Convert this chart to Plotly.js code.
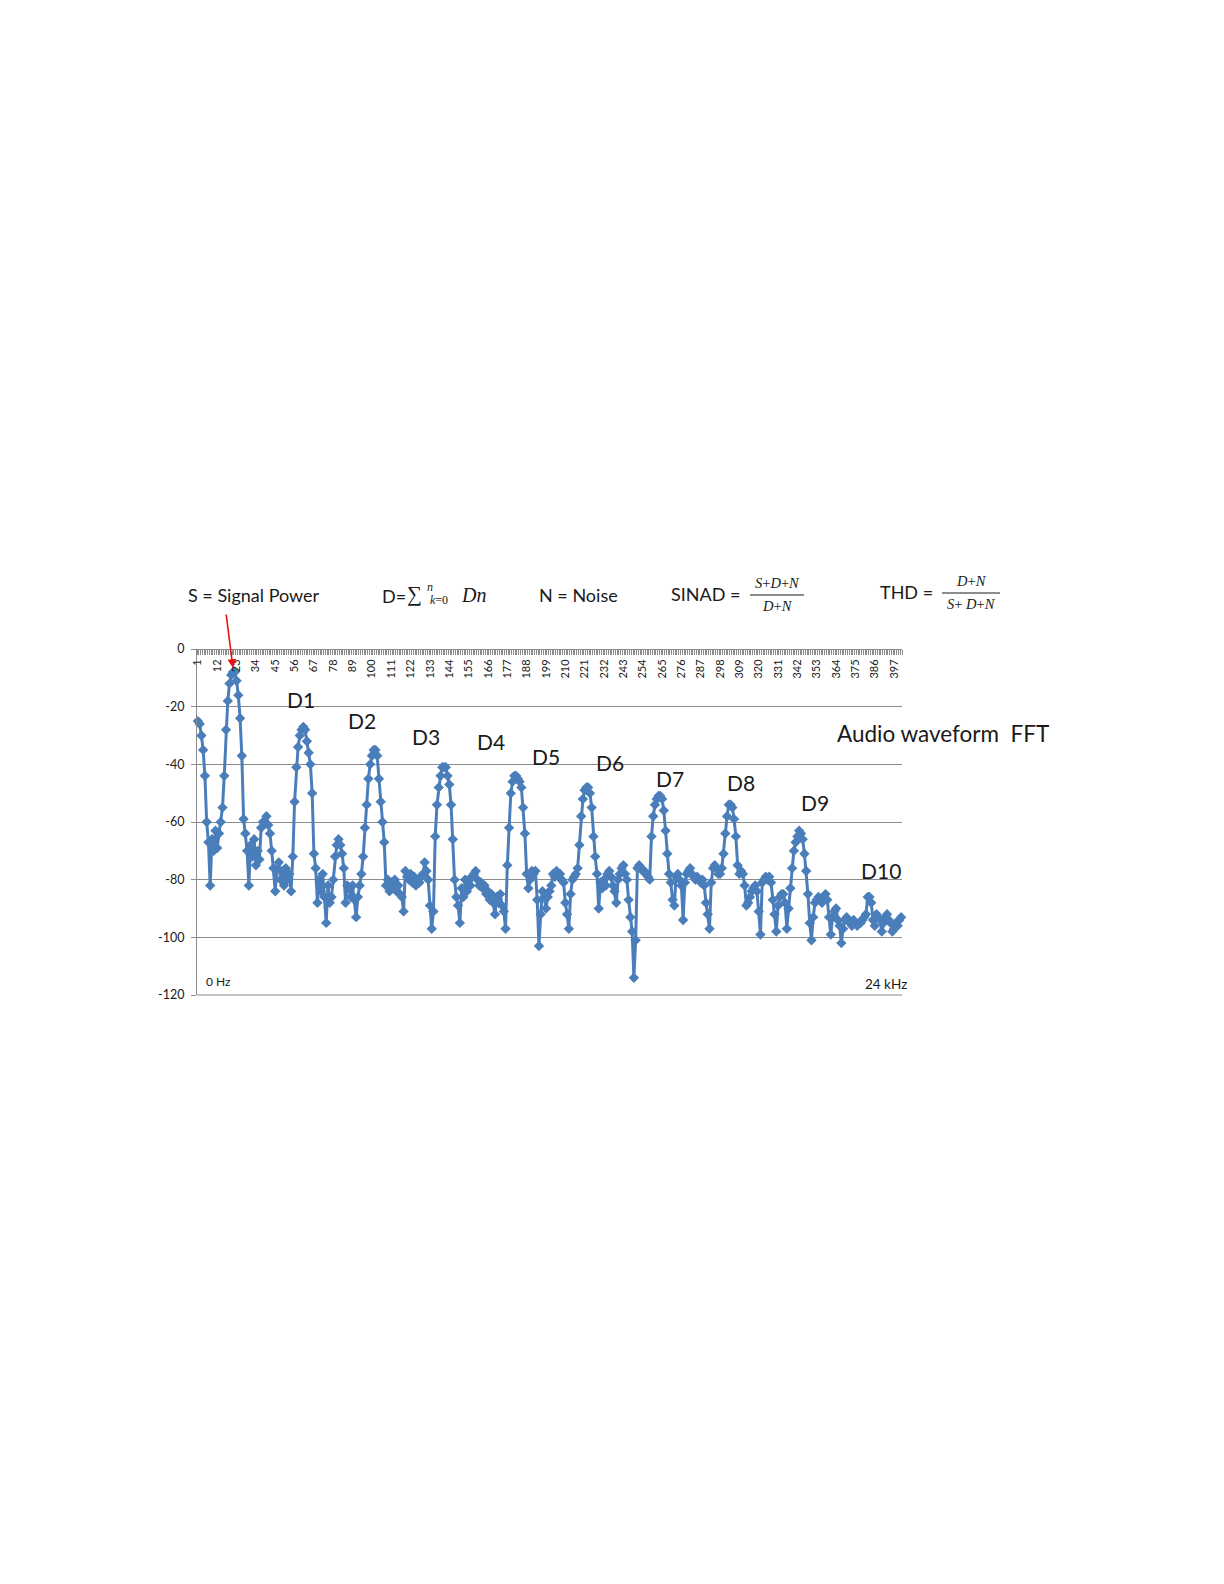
<!DOCTYPE html>
<html><head><meta charset="utf-8">
<script src="https://cdn.plot.ly/plotly-3.0.1.min.js"></script>
<style>html,body{margin:0;padding:0;background:#fff}#chart{width:1224px;height:1584px}</style>
</head><body><div id="chart"></div>
<script>
// FFT magnitude (dB) per bin
const dB = [
-25,-26,-30,-35,-44,-60,-67,-82,-66,-70,
-63,-69,-64,-60,-55,-44,-28,-18,-12,-9,
-8,-8,-11,-16,-24,-37,-59,-64,-70,-82,
-68,-72,-66,-75,-70,-73,-62,-60,-60,-58,
-61,-64,-70,-76,-84,-76,-74,-80,-77,-82,
-76,-80,-78,-84,-72,-53,-41,-34,-30,-28,
-27,-28,-32,-36,-40,-50,-71,-76,-88,-80,
-84,-78,-86,-95,-82,-88,-86,-80,-72,-68,
-66,-68,-71,-76,-88,-82,-83,-86,-82,-87,
-93,-86,-82,-78,-72,-62,-54,-45,-40,-37,
-35,-35,-37,-45,-53,-60,-67,-82,-80,-84,
-81,-83,-80,-84,-82,-85,-86,-91,-77,-79,
-80,-78,-81,-79,-82,-80,-81,-79,-78,-74,
-77,-80,-89,-97,-91,-65,-54,-48,-44,-41,
-41,-41,-44,-47,-54,-66,-80,-86,-89,-95,
-83,-86,-80,-84,-80,-82,-79,-78,-77,-80,
-82,-81,-83,-82,-85,-84,-87,-85,-88,-92,
-86,-88,-85,-89,-91,-97,-75,-62,-50,-46,
-44,-44,-45,-46,-48,-55,-64,-78,-83,-80,
-77,-78,-77,-87,-103,-92,-84,-86,-90,-86,
-84,-82,-78,-79,-77,-79,-78,-80,-81,-88,
-92,-97,-85,-80,-79,-78,-76,-68,-58,-52,
-49,-48,-48,-50,-55,-65,-72,-78,-90,-81,
-83,-80,-82,-78,-77,-79,-82,-84,-88,-80,
-78,-76,-75,-78,-80,-87,-93,-98,-114,-101,
-76,-75,-76,-77,-77,-78,-79,-80,-65,-58,
-54,-52,-51,-51,-52,-56,-63,-71,-78,-81,
-87,-89,-79,-78,-80,-82,-94,-81,-78,-77,
-76,-78,-79,-80,-79,-80,-81,-80,-82,-88,
-92,-97,-81,-76,-75,-76,-78,-78,-76,-71,
-64,-58,-54,-54,-55,-59,-65,-75,-78,-77,
-78,-82,-89,-88,-86,-84,-83,-82,-84,-91,
-99,-81,-80,-79,-80,-79,-81,-87,-92,-98,
-89,-86,-85,-85,-88,-97,-90,-83,-76,-70,
-67,-65,-63,-64,-66,-71,-77,-85,-95,-101,
-93,-88,-87,-86,-87,-88,-86,-85,-87,-93,
-99,-93,-91,-90,-94,-96,-102,-97,-94,-93,
-94,-95,-96,-94,-95,-96,-95,-95,-94,-93,
-92,-86,-86,-88,-94,-96,-92,-93,-94,-98,
-95,-93,-92,-94,-95,-98,-97,-95,-96,-94,
-93
];
const bins = dB.map((v, i) => i + 1);
const xTickVals = [1,12,23,34,45,56,67,78,89,100,111,122,133,144,155,166,177,188,199,210,221,232,243,254,265,276,287,298,309,320,331,342,353,364,375,386,397];
const xTickText = xTickVals.map(String);
const yTickVals = [0,-20,-40,-60,-80,-100,-120];
const yTickText = ['0','-20','-40','-60','-80','-100','-120'];
const harmonicLabels = ['D1','D2','D3','D4','D5','D6','D7','D8','D9','D10'];

// layout geometry (pixels)
const W = 1224, H = 1584, L = 197, R = 902, T = 649, B = 995;
const px = x => (x - L) / (R - L);
const py = y => (B - y) / (B - T);

const sans = 'Lato, "Open Sans", sans-serif';
const serif = '"Liberation Serif", "DejaVu Serif", serif';
const ink = '#1a1a1a';
const gridC = '#8c8c8c';

const harmonicPos = [[301,699],[362,720],[426,736],[491,741],[546,756],[610,762],[670,778],[741,782],[815,802],[881,870]];

const annotations = [];
harmonicLabels.forEach((t, i) => {
  annotations.push({text: t, xref:'paper', yref:'paper', x: px(harmonicPos[i][0]), y: py(harmonicPos[i][1]),
    showarrow:false, xanchor:'center', yanchor:'middle', font:{family:sans, size:21, color:ink}});
});
function txt(text, x, y, size, family, anchor) {
  annotations.push({text, xref:'paper', yref:'paper', x: px(x), y: py(y), showarrow:false,
    xanchor: anchor || 'center', yanchor:'middle', font:{family: family || sans, size, color: ink}});
}
txt('Audio waveform\u00a0\u00a0FFT', 943, 733, 22.5);
txt('0 Hz', 218, 981, 12);
txt('24 kHz', 886, 984, 13.5);
txt('S = Signal Power', 254, 595, 18);
txt('D=', 380, 596, 18, sans, 'left');
txt('\u2211', 414, 594, 21, serif);
txt('<i>n</i>', 430, 587, 12, serif);
txt('<i>k</i>=0', 439, 600, 12, serif);
txt('<i>Dn</i>', 473, 595, 20, serif);
txt('N = Noise', 578, 595, 18);
txt('SINAD =', 705, 594, 18);
txt('<i>S</i>+<i>D</i>+<i>N</i>', 777, 583, 14.5, serif);
txt('<i>D</i>+<i>N</i>', 777, 606, 14.5, serif);
txt('THD =', 907, 592, 18);
txt('<i>D</i>+<i>N</i>', 971, 581, 14.5, serif);
txt('<i>S</i>+ <i>D</i>+<i>N</i>', 971, 604, 14.5, serif);

// red arrow pointing at the signal peak
annotations.push({text:'', xref:'paper', yref:'paper', x: px(233), y: py(668), ax: -7, ay: -55,
  showarrow:true, arrowcolor:'#e8110f', arrowwidth:1.6, arrowhead:2, arrowsize:1.1, standoff:0});

const shapes = [
  // fraction bars
  {type:'line', xref:'paper', yref:'paper', x0:px(750), x1:px(804), y0:py(595), y1:py(595), line:{color:ink, width:1}},
  {type:'line', xref:'paper', yref:'paper', x0:px(942), x1:px(1000), y0:py(593), y1:py(593), line:{color:ink, width:1}},
  // bottom gridline of the plot area
  {type:'line', xref:'paper', yref:'paper', x0:0, x1:1, y0:0, y1:0, line:{color:gridC, width:1}, layer:'below'}
];

const trace = {
  x: bins, y: dB, type:'scatter', mode:'lines+markers', cliponaxis:false,
  line:{color:'#4a7ebb', width:3},
  marker:{symbol:'diamond', size:8, color:'#4a7ebb'},
  hoverinfo:'x+y'
};

const layout = {
  width: W, height: H,
  margin:{l:L, r:W-R, t:T, b:H-B, pad:0},
  paper_bgcolor:'#fff', plot_bgcolor:'#fff',
  showlegend:false,
  font:{family:sans, color:ink},
  xaxis:{
    range:[0.5, dB.length + 0.5], anchor:'free', position:1, side:'bottom',
    tickmode:'array', tickvals:xTickVals, ticktext:xTickText, tickangle:-90,
    ticks:'outside', ticklen:5, tickcolor:'rgba(0,0,0,0)',
    minor:{tickmode:'linear', tick0:0.5, dtick:1, ticks:'outside', ticklen:5, tickcolor:gridC, tickwidth:1, showgrid:false},
    showline:true, linecolor:gridC, linewidth:1,
    showgrid:false, zeroline:false, automargin:false,
    tickfont:{family:sans, size:11, color:ink}
  },
  yaxis:{
    range:[-120, 0], tickmode:'array', tickvals:yTickVals, ticktext:yTickText,
    ticks:'outside', ticklen:5, tickcolor:gridC, ticklabelstandoff:4,
    showline:true, linecolor:gridC, linewidth:1,
    showgrid:true, gridcolor:gridC, gridwidth:1, zeroline:false, automargin:false,
    tickfont:{family:sans, size:12.5, color:ink}
  },
  annotations, shapes
};

Plotly.newPlot('chart', [trace], layout, {staticPlot:true, displayModeBar:false});
</script></body></html>
